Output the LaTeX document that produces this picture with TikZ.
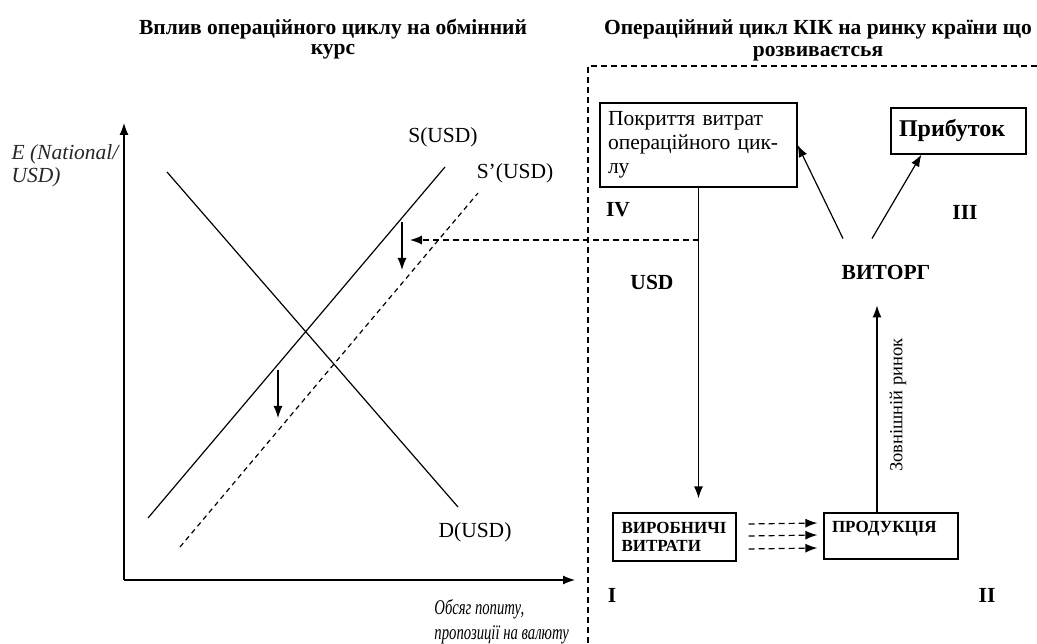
\documentclass[tikz,border=0pt]{standalone}
\usepackage{fontspec}
\setmainfont{Liberation Serif}
\usepackage{tikz}
\usetikzlibrary{calc,positioning,arrows,arrows.meta}
\tikzstyle{box}       = [rectangle, draw=black, line width=1.2pt, align=left, inner xsep=8pt, font=\fontsize{21.5}{24}\selectfont]
\tikzstyle{capsbox}   = [rectangle, draw=black, line width=1.2pt, align=left, inner xsep=8pt, font=\fontsize{17}{18}\selectfont\bfseries]
\tikzstyle{label}     = [font=\fontsize{21.5}{24}\selectfont]
\tikzstyle{bold}      = [font=\fontsize{21.5}{24}\selectfont\bfseries]
\tikzstyle{arrow}     = [line width=1.2pt,->,>={Latex[length=12pt,width=9pt]}]
\tikzstyle{dasharrow} = [line width=1.2pt,dash pattern=on 6pt off 4pt,->,>={Latex[length=12pt,width=9pt]}]

\begin{document}
\begin{tikzpicture}[x=1pt,y=-1pt]
		\useasboundingbox (0,0) rectangle (1037,644);

		% titles
		\node[font=\fontsize{21.5}{20}\selectfont\bfseries, align=center] (titleL) at (333,39) {Вплив операційного циклу на обмінний\\курс};
		\node[font=\fontsize{21.5}{22}\selectfont\bfseries, align=center] (titleR) at (818,40) {Операційний цикл КІК на ринку країни що\\розвиваєтсья};

		% frame of the right part
		\draw[line width=1.2pt, dash pattern=on 6pt off 4pt] (1037,66) -- (588,66) -- (588,644);

		% axes
		\coordinate (O) at (124,580);
		\coordinate (ytop) at (124,123);
		\coordinate (xend) at (575,580);
		\draw[arrow] (O) -- (ytop);
		\draw[arrow] (O) -- (xend);
		\node[label, font=\fontsize{21.5}{23}\selectfont\itshape, align=left, anchor=west, text=black!85] (ylab) at (8,166) {E (National/\\USD)};
		\node[label, font=\fontsize{21}{25}\selectfont\itshape, align=left, anchor=west, xscale=0.7] (xlab) at (432,622) {Обсяг попиту,\\пропозиції на валюту};

		% demand and supply
		\draw[line width=1.2pt] (167,172) -- (458,507);
		\draw[line width=1.2pt] (148,518) -- (445,167);
		\draw[line width=1.2pt, dash pattern=on 5pt off 4pt] (180,547) -- (478,193);
		\node[label] (S) at (443,137) {S(USD)};
		\node[label] (S2) at (515,173) {S’(USD)};
		\node[label] (D) at (475,532) {D(USD)};

		% shift of supply
		\coordinate (sh1) at (402,222);
		\coordinate (sh2) at (278,370);
		\draw[arrow] (sh1) -- ++(0,48);
		\draw[arrow] (sh2) -- ++(0,48);

		% operating cycle
		\node[box, text width=181pt, minimum width=197pt, minimum height=84pt] (cover) at (698.5,145) {Покриття витрат\\операційного цик-\\лу};
		\node[box, font=\fontsize{24}{24}\selectfont\bfseries, text width=119pt, minimum width=135pt, minimum height=46pt, inner xsep=7pt] (prize) at (958.5,131) {Прибуток};
		\node[capsbox, text width=106pt, minimum width=123pt, minimum height=48pt] (costs) at (674.5,537) {ВИРОБНИЧІ\\ВИТРАТИ};
		\node[capsbox, text width=118pt, minimum width=134pt, minimum height=46pt] (product) at (891,536) {ПРОДУКЦІЯ\\\mbox{}};
		\node[bold, inner ysep=26pt] (revenue) at (886,272) {ВИТОРГ};

		\node[bold] (usd) at (652,282) {USD};
		\node[bold] (q4) at (618,210) {IV};
		\node[bold] (q3) at (965,212) {III};
		\node[bold] (q1) at (612,595) {I};
		\node[bold] (q2) at (987,595) {II};

		\draw[arrow] (cover.south) -- ([yshift=14pt]cover.south |- costs.north);
		\coordinate (split) at (cover.south |- 0,240);
		\draw[dasharrow] (split) -- (410,240);
		\foreach \dy in {-13,-1,12}
			\draw[dasharrow] ($(costs.east)+(12,\dy)$) -- ($(product.west)+(-6,\dy)$);
		\draw[arrow] ($(product.north)+(-14,0)$) -- ($(revenue.south)+(-9,0)$);
		\node[label, font=\fontsize{18.5}{20}\selectfont, rotate=90] (market) at (898,405) {Зовнішній ринок};
		\draw[arrow] ($(revenue.north)+(-43,0)$) -- (cover.east);
		\draw[arrow] ($(revenue.north)+(-14,0)$) -- ($(prize.south west)+(31,0)$);
	\end{tikzpicture}
\end{document}
